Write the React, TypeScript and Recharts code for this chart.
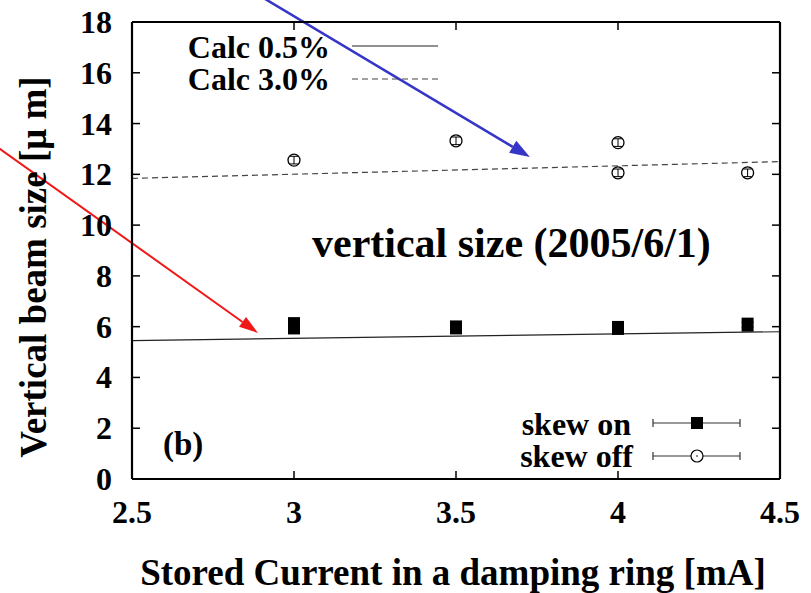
import React from "react";
import {
  ComposedChart,
  XAxis,
  YAxis,
  Line,
  Scatter,
  ErrorBar,
  ReferenceLine,
} from "recharts";

// Axis ticks
const xTicks = [2.5, 3, 3.5, 4, 4.5];
const yTicks = [0, 2, 4, 6, 8, 10, 12, 14, 16, 18];

// Measured beam size, skew correction on (filled squares)
const skewOnCurrent = [3.0, 3.0, 3.5, 4.0, 4.4];
const skewOnSize = [6.1, 5.97, 5.97, 5.95, 6.08];
const skewOnErr = [0.1, 0.1, 0.1, 0.1, 0.1];

// Measured beam size, skew correction off (open circles)
const skewOffCurrent = [3.0, 3.5, 4.0, 4.0, 4.4];
const skewOffSize = [12.56, 13.32, 13.25, 12.06, 12.06];
const skewOffErr = [0.15, 0.15, 0.15, 0.15, 0.15];

// Calculated curves
const calcCurrent = [2.5, 4.5];
const calc05 = [5.45, 5.8];
const calc30 = [11.84, 12.5];

// Annotation arrows [start, tip] in data units
const blueArrow = [
  { x: 2.833, y: 19.5 },
  { x: 3.728, y: 12.68 },
];
const redArrow = [
  { x: 2.031, y: 13.56 },
  { x: 2.889, y: 5.75 },
];

const skewOnData = skewOnCurrent.map((x, i) => ({ x, y: skewOnSize[i], err: skewOnErr[i] }));
const skewOffData = skewOffCurrent.map((x, i) => ({ x, y: skewOffSize[i], err: skewOffErr[i] }));
const calc05Data = calcCurrent.map((x, i) => ({ x, y: calc05[i] }));
const calc30Data = calcCurrent.map((x, i) => ({ x, y: calc30[i] }));

const FONT = "'Liberation Serif', 'Times New Roman', serif";
const TICK_LEN = 8;

const BottomTick = (props: any) => {
  const { x, y, payload } = props;
  return (
    <g>
      <line x1={x} y1={y} x2={x} y2={y - TICK_LEN} stroke="#000" strokeWidth={1.5} />
      <text
        x={x}
        y={y + 44}
        textAnchor="middle"
        fontFamily={FONT}
        fontWeight="bold"
        fontSize={32}
        fill="#000"
      >
        {payload.value}
      </text>
    </g>
  );
};

const TopTick = (props: any) => {
  const { x, y } = props;
  return <line x1={x} y1={y} x2={x} y2={y + TICK_LEN} stroke="#000" strokeWidth={1.5} />;
};

const LeftTick = (props: any) => {
  const { x, y, payload } = props;
  return (
    <g>
      <line x1={x} y1={y} x2={x + TICK_LEN} y2={y} stroke="#000" strokeWidth={1.5} />
      <text
        x={x - 20}
        y={y + 11}
        textAnchor="end"
        fontFamily={FONT}
        fontWeight="bold"
        fontSize={32}
        fill="#000"
      >
        {payload.value}
      </text>
    </g>
  );
};

const RightTick = (props: any) => {
  const { x, y } = props;
  return <line x1={x} y1={y} x2={x - TICK_LEN} y2={y} stroke="#000" strokeWidth={1.5} />;
};

const SquareDot = (props: any) => {
  const { cx, cy } = props;
  if (cx == null || cy == null) return null;
  return <rect x={cx - 6} y={cy - 7} width={12} height={14} fill="#000" />;
};

const CircleDot = (props: any) => {
  const { cx, cy } = props;
  if (cx == null || cy == null) return null;
  return <circle cx={cx} cy={cy} r={6} fill="none" stroke="#000" strokeWidth={1.3} />;
};

const makeArrow = (color: string, width: number, headLen: number, headW: number) => (props: any) => {
  const { x1, y1, x2, y2 } = props;
  const dx = x2 - x1;
  const dy = y2 - y1;
  const len = Math.sqrt(dx * dx + dy * dy) || 1;
  const ux = dx / len;
  const uy = dy / len;
  const bx = x2 - ux * headLen;
  const by = y2 - uy * headLen;
  const px = -uy * (headW / 2);
  const py = ux * (headW / 2);
  return (
    <g>
      <line x1={x1} y1={y1} x2={bx} y2={by} stroke={color} strokeWidth={width} />
      <polygon
        points={`${x2},${y2} ${bx + px},${by + py} ${bx - px},${by - py}`}
        fill={color}
      />
    </g>
  );
};

const BlueArrow = makeArrow("#3535c8", 2.5, 20, 14);
const RedArrow = makeArrow("#f01818", 2, 19, 12);

const textStyle = {
  fontFamily: FONT,
  fontWeight: "bold" as const,
  fill: "#000",
};

export default function App() {
  return (
    <div style={{ position: "absolute", left: 0, top: 0, width: 811, height: 593, background: "#fff" }}>
      <ComposedChart
        width={811}
        height={593}
        margin={{ top: 0, right: 0, bottom: 0, left: 0 }}
      >
        <XAxis
          xAxisId={0}
          dataKey="x"
          type="number"
          domain={[2.5, 4.5]}
          ticks={xTicks}
          allowDataOverflow
          orientation="bottom"
          height={114}
          tickSize={0}
          tickMargin={0}
          tickLine={false}
          tick={<BottomTick />}
          axisLine={{ stroke: "#000", strokeWidth: 2.2 }}
          interval={0}
        />
        <XAxis
          xAxisId="top"
          dataKey="x"
          type="number"
          domain={[2.5, 4.5]}
          ticks={xTicks}
          allowDataOverflow
          orientation="top"
          height={22}
          tickSize={0}
          tickMargin={0}
          tickLine={false}
          tick={<TopTick />}
          axisLine={{ stroke: "#000", strokeWidth: 2.2 }}
          interval={0}
        />
        <YAxis
          yAxisId={0}
          type="number"
          domain={[0, 18]}
          ticks={yTicks}
          allowDataOverflow
          orientation="left"
          width={132}
          tickSize={0}
          tickMargin={0}
          tickLine={false}
          tick={<LeftTick />}
          axisLine={{ stroke: "#000", strokeWidth: 2.2 }}
          interval={0}
        />
        <YAxis
          yAxisId="right"
          type="number"
          domain={[0, 18]}
          ticks={yTicks}
          allowDataOverflow
          orientation="right"
          width={31}
          tickSize={0}
          tickMargin={0}
          tickLine={false}
          tick={<RightTick />}
          axisLine={{ stroke: "#000", strokeWidth: 2.2 }}
          interval={0}
        />

        <Line
          data={calc05Data}
          dataKey="y"
          type="linear"
          stroke="#222"
          strokeWidth={1.2}
          dot={false}
          activeDot={false}
          isAnimationActive={false}
        />
        <Line
          data={calc30Data}
          dataKey="y"
          type="linear"
          stroke="#444"
          strokeWidth={1.2}
          strokeDasharray="6 4"
          dot={false}
          activeDot={false}
          isAnimationActive={false}
        />

        <Scatter data={skewOnData} dataKey="y" shape={<SquareDot />} isAnimationActive={false}>
          <ErrorBar dataKey="err" direction="y" width={6} stroke="#000" strokeWidth={1} />
        </Scatter>
        <Scatter data={skewOffData} dataKey="y" shape={<CircleDot />} isAnimationActive={false}>
          <ErrorBar dataKey="err" direction="y" width={4} stroke="#000" strokeWidth={1} />
        </Scatter>

        <ReferenceLine segment={blueArrow} ifOverflow="visible" shape={BlueArrow} />
        <ReferenceLine segment={redArrow} ifOverflow="visible" shape={RedArrow} />
      </ComposedChart>

      <svg
        width={811}
        height={593}
        style={{ position: "absolute", left: 0, top: 0, pointerEvents: "none" }}
      >
        {/* key for the calculated curves */}
        <text x={330} y={58} textAnchor="end" fontSize={32} {...textStyle}>Calc 0.5%</text>
        <line x1={352} y1={46} x2={438} y2={46} stroke="#222" strokeWidth={1.2} />
        <text x={330} y={90} textAnchor="end" fontSize={32} {...textStyle}>Calc 3.0%</text>
        <line x1={352} y1={79} x2={438} y2={79} stroke="#444" strokeWidth={1.2} strokeDasharray="6 4" />

        {/* key for the measurements */}
        <text x={631} y={435} textAnchor="end" fontSize={32} {...textStyle}>skew on</text>
        <line x1={653} y1={423} x2={740} y2={423} stroke="#333" strokeWidth={1.2} />
        <line x1={653} y1={419} x2={653} y2={427} stroke="#333" strokeWidth={1.2} />
        <line x1={740} y1={419} x2={740} y2={427} stroke="#333" strokeWidth={1.2} />
        <rect x={691} y={417} width={12} height={12} fill="#000" />

        <text x={633} y={467} textAnchor="end" fontSize={32} {...textStyle}>skew off</text>
        <line x1={653} y1={456} x2={740} y2={456} stroke="#333" strokeWidth={1.2} />
        <line x1={653} y1={452} x2={653} y2={460} stroke="#333" strokeWidth={1.2} />
        <line x1={740} y1={452} x2={740} y2={460} stroke="#333" strokeWidth={1.2} />
        <circle cx={697} cy={456} r={6} fill="#fff" stroke="#000" strokeWidth={1.2} />
        <circle cx={697} cy={456} r={0.8} fill="#000" />

        <text x={312} y={257} fontSize={42} {...textStyle}>vertical size (2005/6/1)</text>
        <text x={163} y={455} fontSize={33} {...textStyle}>(b)</text>

        <text x={453} y={585} textAnchor="middle" fontSize={37} {...textStyle}>
          Stored Current in a damping ring [mA]
        </text>
        <text
          x={0}
          y={0}
          transform="translate(46,267) rotate(-90)"
          textAnchor="middle"
          fontSize={37}
          {...textStyle}
        >
          Vertical beam size [μ m]
        </text>
      </svg>
    </div>
  );
}
